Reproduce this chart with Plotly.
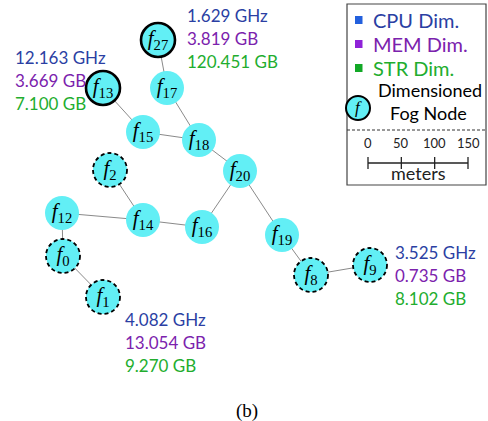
import plotly.graph_objects as go

# ---------------- data ----------------
# node coordinates in meters (scale: 150 m bar)
node_names = ["f27", "f13", "f17", "f15", "f18", "f20", "f2", "f12",
              "f14", "f16", "f0", "f1", "f19", "f8", "f9"]
node_x = [237, 154.5, 250.5, 214.5, 298.5, 360, 165, 93,
          214.5, 303, 94.5, 154.5, 423, 466.5, 555]
node_y = [571.5, 499.5, 499.5, 433.5, 421.5, 375, 376.5, 312,
          301.5, 291, 247.5, 186, 279, 219, 234]
edges = [("f27", "f17"), ("f13", "f15"), ("f17", "f18"), ("f15", "f18"),
         ("f18", "f20"), ("f20", "f16"), ("f20", "f19"), ("f2", "f14"),
         ("f12", "f14"), ("f14", "f16"), ("f12", "f0"), ("f0", "f1"),
         ("f19", "f8"), ("f8", "f9")]
dimensioned_nodes = ["f27", "f13"]
candidate_nodes = ["f2", "f0", "f1", "f8", "f9"]

labelled_nodes = ["f27", "f13", "f1", "f9"]
cpu_ghz = [1.629, 12.163, 4.082, 3.525]
mem_gb = [3.819, 3.669, 13.054, 0.735]
str_gb = [120.451, 7.100, 9.270, 8.102]

legend_items = ["CPU Dim.", "MEM Dim.", "STR Dim."]
scale_ticks = [0, 50, 100, 150]

# ---------------- styles ----------------
W, H = 488, 421
M_PER_PX = 1.5
XR = [0, W * M_PER_PX]
YR = [0, H * M_PER_PX]
R_PX = 17
CYAN = "#62eff5"
C_CPU, C_MEM, C_STR = "#2b3fa3", "#7b22ad", "#22ad2e"
SQ_COLORS = ["#2360dd", "#8f22d8", "#12a826"]
TXT_COLORS = [C_CPU, C_MEM, C_STR]
SANS = "Lato, Open Sans, sans-serif"
SERIF = "Liberation Serif, Times New Roman, serif"

# label block offsets (pixels) relative to node centre
label_offsets = {"f27": (27, 25, "left"), "f13": (-90, 31, "left"),
                 "f1": (20, -22, "left"), "f9": (23, 13, "left")}

pos = {n: (x, y) for n, x, y in zip(node_names, node_x, node_y)}


def px_x(p):
    return p / W


def px_y(p):
    return 1 - p / H


fig = go.Figure()

# edges
ex, ey = [], []
for a, b in edges:
    ex += [pos[a][0], pos[b][0], None]
    ey += [pos[a][1], pos[b][1], None]
fig.add_trace(go.Scatter(x=ex, y=ey, mode="lines",
                         line=dict(color="#8a8a8a", width=1),
                         hoverinfo="skip", showlegend=False))

# nodes
labels = ["<i>f</i><sub>%s</sub>" % n[1:] for n in node_names]
fig.add_trace(go.Scatter(x=node_x, y=node_y, mode="markers+text",
                         marker=dict(size=2 * R_PX, color=CYAN,
                                     line=dict(width=0)),
                         text=labels, textposition="middle center",
                         textfont=dict(family=SERIF, size=21, color="black"),
                         showlegend=False))

shapes = []
r = R_PX * M_PER_PX
for n in dimensioned_nodes + candidate_nodes:
    x, y = pos[n]
    dash = "solid" if n in dimensioned_nodes else "4px,3px"
    width = 2.6 if n in dimensioned_nodes else 1.8
    shapes.append(dict(type="circle", xref="x", yref="y",
                       x0=x - r, x1=x + r, y0=y - r, y1=y + r,
                       line=dict(color="black", width=width, dash=dash)))

annotations = []
for n, c, m, s in zip(labelled_nodes, cpu_ghz, mem_gb, str_gb):
    x, y = pos[n]
    dx, dy, anchor = label_offsets[n]
    lines = ["%.3f GHz" % c, "%.3f GB" % m, "%.3f GB" % s]
    for k, (t, col) in enumerate(zip(lines, TXT_COLORS)):
        annotations.append(dict(x=x, y=y, xref="x", yref="y", text=t,
                                showarrow=False, xanchor=anchor,
                                yanchor="middle", xshift=dx,
                                yshift=dy - 23 * k,
                                font=dict(family=SANS, size=17, color=col)))

# legend box
shapes.append(dict(type="rect", xref="paper", yref="paper",
                   x0=px_x(347), x1=px_x(486), y0=px_y(185), y1=px_y(4),
                   line=dict(color="#444444", width=1.2), fillcolor="white",
                   layer="below"))
shapes.append(dict(type="line", xref="paper", yref="paper",
                   x0=px_x(347), x1=px_x(486), y0=px_y(130), y1=px_y(130),
                   line=dict(color="#333333", width=1, dash="3px,2px")))
for i, (item, sq, tc) in enumerate(zip(legend_items, SQ_COLORS, TXT_COLORS)):
    cy = 20 + 24 * i
    shapes.append(dict(type="rect", xref="paper", yref="paper",
                       x0=px_x(355), x1=px_x(362.5), y0=px_y(cy + 4),
                       y1=px_y(cy - 4), fillcolor=sq, line=dict(width=0)))
    annotations.append(dict(x=px_x(371), y=px_y(cy), xref="paper",
                            yref="paper", text=item, showarrow=False,
                            xanchor="left", yanchor="middle",
                            font=dict(family=SANS, size=20, color=tc)))
# legend node symbol
shapes.append(dict(type="circle", xref="paper", yref="paper",
                   x0=px_x(346), x1=px_x(370), y0=px_y(120), y1=px_y(96),
                   fillcolor=CYAN, line=dict(color="black", width=2)))
annotations.append(dict(x=px_x(358), y=px_y(108), xref="paper", yref="paper",
                        text="<i>f</i>", showarrow=False, xanchor="center",
                        yanchor="middle",
                        font=dict(family=SERIF, size=17, color="black")))
annotations.append(dict(x=px_x(430), y=px_y(90), xref="paper", yref="paper",
                        text="Dimensioned", showarrow=False, xanchor="center",
                        yanchor="middle",
                        font=dict(family=SANS, size=18, color="black")))
annotations.append(dict(x=px_x(428), y=px_y(113), xref="paper", yref="paper",
                        text="Fog Node", showarrow=False, xanchor="center",
                        yanchor="middle",
                        font=dict(family=SANS, size=18, color="black")))

# scale bar in data (meter) units
sb_x0 = 368 * M_PER_PX
sb_y = (H - 163) * M_PER_PX
tick_h = 6 * M_PER_PX
shapes.append(dict(type="line", xref="x", yref="y", x0=sb_x0,
                   x1=sb_x0 + scale_ticks[-1], y0=sb_y, y1=sb_y,
                   line=dict(color="#222222", width=1.3)))
for t in scale_ticks:
    shapes.append(dict(type="line", xref="x", yref="y", x0=sb_x0 + t,
                       x1=sb_x0 + t, y0=sb_y - tick_h, y1=sb_y + tick_h,
                       line=dict(color="#222222", width=1.3)))
    annotations.append(dict(x=sb_x0 + t, y=sb_y, xref="x", yref="y",
                            text=str(t), showarrow=False, xanchor="center",
                            yanchor="middle", yshift=20,
                            font=dict(family=SANS, size=13, color="#222222")))
annotations.append(dict(x=sb_x0 + scale_ticks[-1] / 2, y=sb_y, xref="x",
                        yref="y", text="meters", showarrow=False,
                        xanchor="center", yanchor="middle", yshift=-10,
                        font=dict(family=SANS, size=18, color="#222222")))

# caption
annotations.append(dict(x=px_x(247), y=px_y(411), xref="paper", yref="paper",
                        text="(b)", showarrow=False, xanchor="center",
                        yanchor="middle",
                        font=dict(family=SERIF, size=19, color="black")))

fig.update_layout(width=W, height=H, margin=dict(l=0, r=0, t=0, b=0),
                  autosize=False, plot_bgcolor="white", paper_bgcolor="white",
                  xaxis=dict(range=XR, visible=False, fixedrange=True),
                  yaxis=dict(range=YR, visible=False, fixedrange=True),
                  shapes=shapes, annotations=annotations, showlegend=False)

fig.write_html("out.html")
